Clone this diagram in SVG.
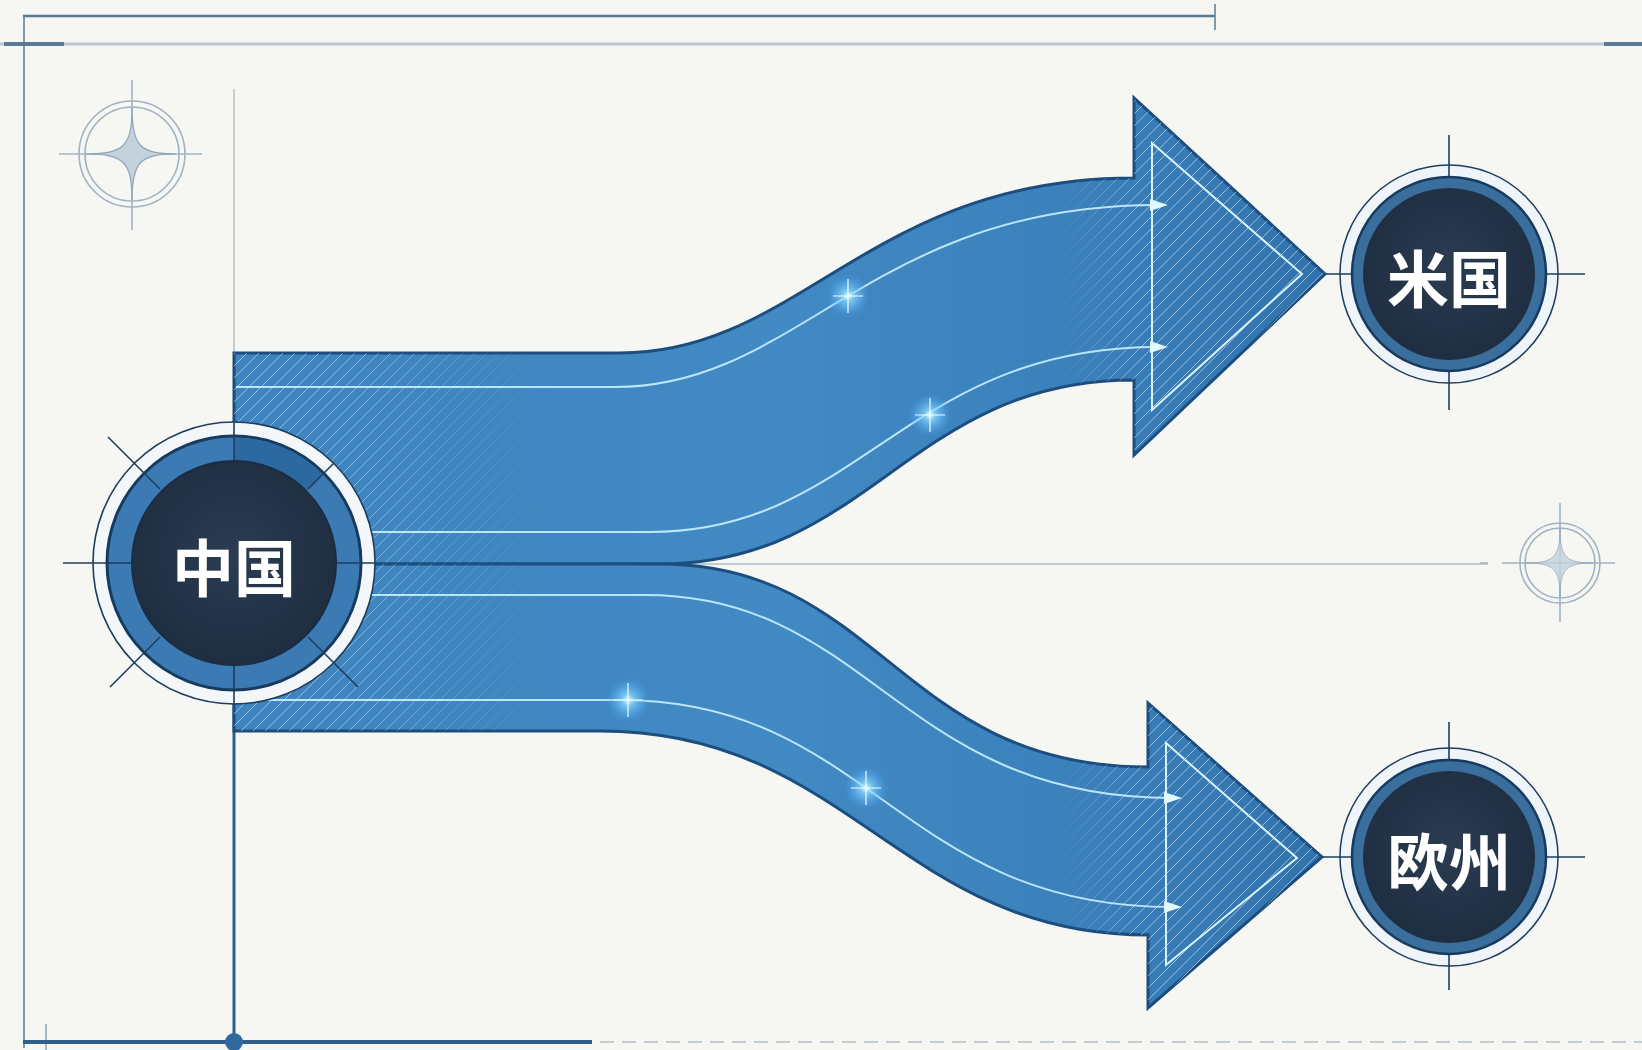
<svg xmlns="http://www.w3.org/2000/svg" width="1642" height="1050" viewBox="0 0 1642 1050">
<defs>
<style>
.frame{fill:none;stroke:#5b7a92}
.faint{fill:none;stroke:#bcc8d1}
.band{stroke:#1b4e7f;stroke-width:3;stroke-linejoin:miter}
.glow{fill:none;stroke:#c9f0ff;stroke-width:2;opacity:.9}
.tri{fill:none;stroke:#d8f4ff;stroke-width:2}
.cross{stroke:#1f3d5c;stroke-width:1.6;fill:none}
.compass{fill:none;stroke:#9fb3c2;stroke-width:1.6}
.star{fill:#c3d2dd;stroke:#8ea6b7;stroke-width:1.2}
.label{font-family:"Noto Sans CJK JP","Noto Sans CJK SC",sans-serif;font-weight:700;font-size:62px;fill:#ffffff;text-anchor:middle;dominant-baseline:central}
.tip{fill:#e2f8ff}
</style>
<linearGradient id="bandGrad" gradientUnits="userSpaceOnUse" x1="234" y1="0" x2="1325" y2="0">
<stop offset="0" stop-color="#3e84bf"/>
<stop offset="0.5" stop-color="#428ac4"/>
<stop offset="0.8" stop-color="#3a7fba"/>
<stop offset="1" stop-color="#3172ac"/>
</linearGradient>
<radialGradient id="navy" cx="0.5" cy="0.45" r="0.6">
<stop offset="0" stop-color="#2b3c52"/>
<stop offset="1" stop-color="#1e2c3f"/>
</radialGradient>
<radialGradient id="sparkGrad">
<stop offset="0" stop-color="#f2ffff" stop-opacity="1"/>
<stop offset="0.25" stop-color="#8fdcff" stop-opacity="0.75"/>
<stop offset="1" stop-color="#3fa4ff" stop-opacity="0"/>
</radialGradient>
<pattern id="hatch" width="12" height="12" patternUnits="userSpaceOnUse">
<path d="M-3 3 L3 -3 M0 12 L12 0 M9 15 L15 9" stroke="#ffffff" stroke-opacity="0.5" stroke-width="1"/>
</pattern>
<linearGradient id="fadeL" gradientUnits="userSpaceOnUse" x1="234" y1="0" x2="540" y2="0">
<stop offset="0" stop-color="#fff"/>
<stop offset="0.45" stop-color="#bbb"/>
<stop offset="1" stop-color="#000"/>
</linearGradient>
<linearGradient id="fadeR" gradientUnits="userSpaceOnUse" x1="1060" y1="0" x2="1150" y2="0">
<stop offset="0" stop-color="#000"/>
<stop offset="1" stop-color="#fff"/>
</linearGradient>
<mask id="maskL"><rect x="0" y="0" width="1642" height="1050" fill="url(#fadeL)"/></mask>
<mask id="maskR"><rect x="0" y="0" width="1642" height="1050" fill="url(#fadeR)"/></mask>
<clipPath id="clipUp"><path d="M 234 353 L 620 353 C 800 353 870 178 1134 178 L 1134 98 L 1325 274 L 1134 455 L 1134 380 C 910 380 870 564 660 564 L 234 564 Z"/></clipPath>
<clipPath id="clipDown"><path d="M 234 564 L 660 564 C 880 564 900 767 1148 767 L 1148 703 L 1322 857 L 1148 1008 L 1148 935 C 900 935 850 731 600 731 L 234 731 Z"/></clipPath>
<g id="spark">
<circle r="22" fill="url(#sparkGrad)"/>
<path d="M -15 0 H 15 M 0 -17 V 17" stroke="#effdff" stroke-width="1.2"/>
</g>
<path id="starShape" d="M 0 -46 C 0 -8 8 0 44 0 C 8 0 0 8 0 46 C 0 8 -8 0 -46 0 C -8 0 0 -8 0 -46 Z"/>
</defs>

<rect x="0" y="0" width="1642" height="1050" fill="#f6f6f2"/>

<g id="frame">
<line class="frame" x1="23" y1="16" x2="1215" y2="16" stroke-width="2.5"/>
<line class="frame" x1="1215" y1="4" x2="1215" y2="30" stroke-width="1.5"/>
<line class="faint" x1="0" y1="44" x2="1642" y2="44" stroke-width="3"/>
<line class="frame" x1="4" y1="44" x2="64" y2="44" stroke-width="4"/>
<line class="frame" x1="1604" y1="44" x2="1642" y2="44" stroke-width="4"/>
<line class="frame" x1="24" y1="16" x2="24" y2="1048" stroke-width="1.5"/>
<line class="frame" x1="46" y1="1024" x2="46" y2="1050" stroke-width="1"/>
<line x1="234" y1="89" x2="234" y2="353" stroke="#b5c2cc" stroke-width="1.5"/>
<line x1="234" y1="704" x2="234" y2="1042" stroke="#2b6093" stroke-width="3"/>
<line x1="23" y1="1042" x2="592" y2="1042" stroke="#2f5f8a" stroke-width="4"/>
<line x1="600" y1="1042" x2="1642" y2="1042" stroke="#c3ccd3" stroke-width="2" stroke-dasharray="14 8"/>
<circle cx="234" cy="1042" r="9" fill="#2e6aa0"/>
<line x1="660" y1="564" x2="1488" y2="564" stroke="#c4cbd1" stroke-width="2"/>
</g>

<g id="decor">
<g transform="translate(132 154)">
<line class="compass" x1="-73" y1="0" x2="70" y2="0"/>
<line class="compass" x1="0" y1="-74" x2="0" y2="76"/>
<circle class="compass" r="53"/>
<circle class="compass" r="47"/>
<use href="#starShape" class="star"/>
</g>
<g transform="translate(1560 563)">
<line class="compass" x1="-80" y1="0" x2="-72" y2="0"/>
<line class="compass" x1="-58" y1="0" x2="55" y2="0"/>
<line class="compass" x1="0" y1="-60" x2="0" y2="59"/>
<circle class="compass" r="40"/>
<circle class="compass" r="35"/>
<use href="#starShape" class="star" transform="scale(0.75)" opacity="0.8"/>
</g>
</g>

<g id="connectors">
<g id="arrow-usa">
<path class="band" fill="url(#bandGrad)" d="M 234 353 L 620 353 C 800 353 870 178 1134 178 L 1134 98 L 1325 274 L 1134 455 L 1134 380 C 910 380 870 564 660 564 L 234 564 Z"/>
<g clip-path="url(#clipUp)">
<rect x="234" y="340" width="320" height="230" fill="url(#hatch)" mask="url(#maskL)"/>
<rect x="1040" y="90" width="300" height="380" fill="url(#hatch)" mask="url(#maskR)"/>
</g>
<path class="glow" d="M 236 387 L 615 387 C 800 387 870 205 1158 205"/>
<path class="glow" d="M 236 532 L 650 532 C 860 532 905 347 1158 347"/>
<path class="tri" d="M 1152 143 L 1302 274 L 1152 410 Z"/>
<path class="tip" d="M 1150 199 L 1168 205 L 1150 211 Z"/>
<path class="tip" d="M 1150 341 L 1168 347 L 1150 353 Z"/>
<use href="#spark" x="848" y="296"/>
<use href="#spark" x="930" y="415"/>
</g>
<g id="arrow-europe">
<path class="band" fill="url(#bandGrad)" d="M 234 564 L 660 564 C 880 564 900 767 1148 767 L 1148 703 L 1322 857 L 1148 1008 L 1148 935 C 900 935 850 731 600 731 L 234 731 Z"/>
<g clip-path="url(#clipDown)">
<rect x="234" y="560" width="320" height="180" fill="url(#hatch)" mask="url(#maskL)"/>
<rect x="1040" y="690" width="300" height="330" fill="url(#hatch)" mask="url(#maskR)"/>
</g>
<path class="glow" d="M 236 595 L 645 595 C 870 595 900 798 1172 798"/>
<path class="glow" d="M 236 700 L 620 700 C 870 700 900 907 1172 907"/>
<path class="tri" d="M 1166 743 L 1297 858 L 1166 965 Z"/>
<path class="tip" d="M 1164 792 L 1182 798 L 1164 804 Z"/>
<path class="tip" d="M 1164 901 L 1182 907 L 1164 913 Z"/>
<use href="#spark" x="628" y="700"/>
<use href="#spark" x="866" y="788"/>
</g>
</g>

<g id="node-china">
<line class="cross" x1="63" y1="563" x2="120" y2="563"/>
<circle cx="234" cy="563" r="141" fill="#f3f7fa" stroke="#1f3d5c" stroke-width="1.6"/>
<circle cx="234" cy="563" r="127" fill="#3b7ab3" stroke="#173b5f" stroke-width="3"/>
<path d="M 234 437.5 A 125.5 125.5 0 0 1 322.7 474.3 L 306.1 490.9 A 102 102 0 0 0 234 461 Z" fill="#2c69a1"/>
<line class="cross" x1="93" y1="563" x2="375" y2="563"/>
<line class="cross" x1="234" y1="422" x2="234" y2="704"/>
<line class="cross" x1="160" y1="489" x2="108" y2="437"/>
<line class="cross" x1="160" y1="637" x2="110" y2="687"/>
<line class="cross" x1="308" y1="489" x2="334" y2="463"/>
<line class="cross" x1="308" y1="637" x2="358" y2="687"/>
<circle cx="234" cy="563" r="102" fill="url(#navy)" stroke="#1a2d44" stroke-width="2"/>
<text class="label" x="234" y="565" font-family="Noto Sans CJK SC, sans-serif">中国</text>
</g>

<g id="node-usa">
<circle cx="1449" cy="274" r="109" fill="#eef4f8" stroke="#1f3d5c" stroke-width="1.5"/>
<line class="cross" x1="1449" y1="135" x2="1449" y2="410"/>
<line class="cross" x1="1325" y1="274" x2="1585" y2="274"/>
<circle cx="1449" cy="274" r="97" fill="#3a6f9d" stroke="#173b5f" stroke-width="2.5"/>
<circle cx="1449" cy="274" r="86" fill="url(#navy)"/>
<text class="label" x="1449" y="276">米国</text>
</g>

<g id="node-europe">
<circle cx="1449" cy="857" r="109" fill="#eef4f8" stroke="#1f3d5c" stroke-width="1.5"/>
<line class="cross" x1="1449" y1="722" x2="1449" y2="990"/>
<line class="cross" x1="1322" y1="857" x2="1585" y2="857"/>
<circle cx="1449" cy="857" r="97" fill="#3a6f9d" stroke="#173b5f" stroke-width="2.5"/>
<circle cx="1449" cy="857" r="86" fill="url(#navy)"/>
<text class="label" x="1449" y="859">欧州</text>
</g>
</svg>
